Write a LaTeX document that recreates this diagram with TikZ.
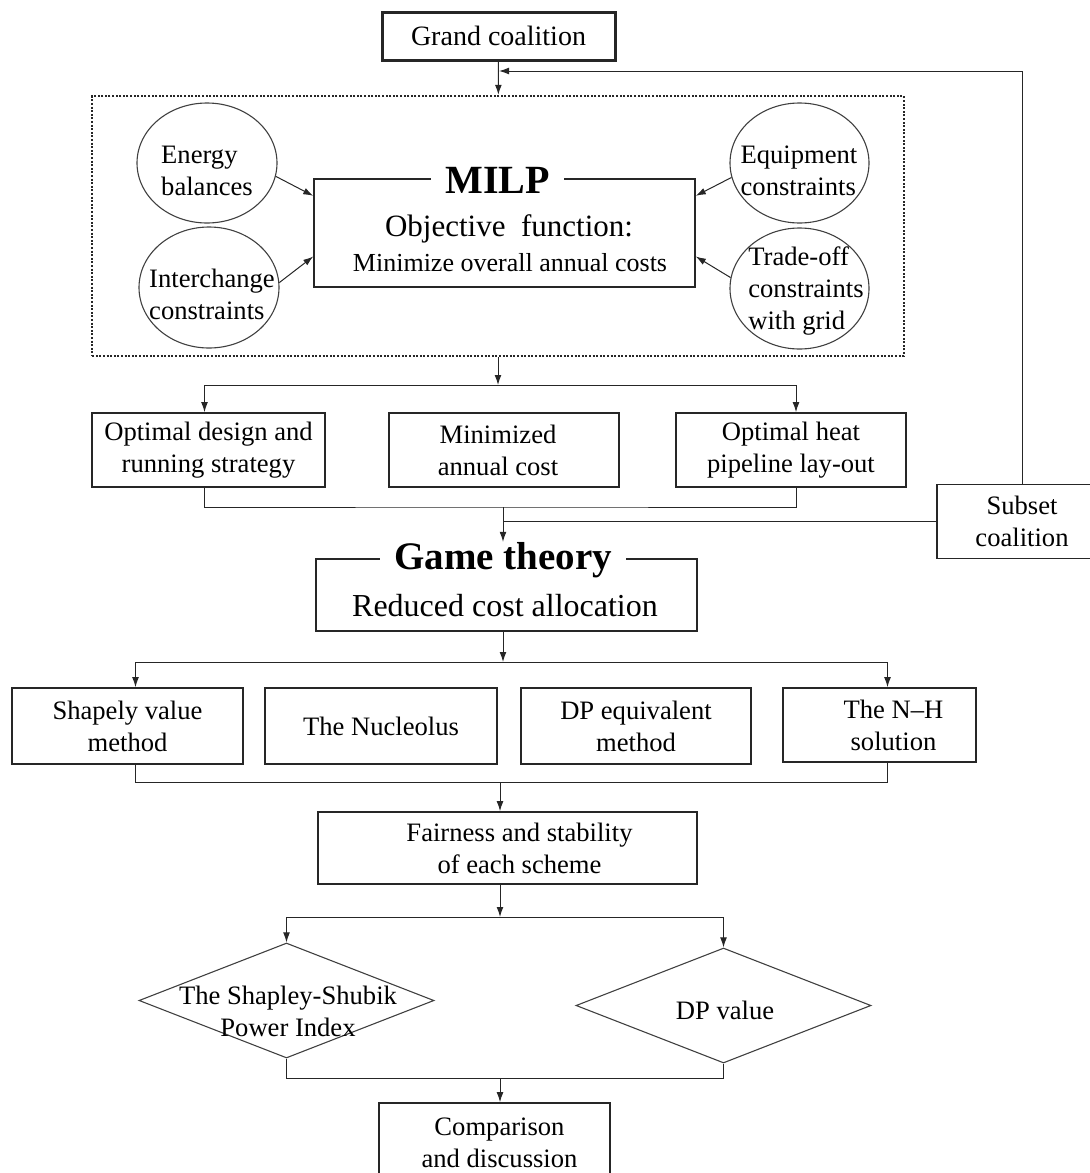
\documentclass[tikz,border=0pt]{standalone}
\usepackage{fontspec}
\setmainfont{Liberation Serif}
\usetikzlibrary{shapes.geometric, arrows.meta, positioning}

\begin{document}
\begin{tikzpicture}[x=0.5pt, y=-0.5pt,
    box/.style={draw=black!85, line width=0.8pt, align=center, inner sep=1pt,
      font=\fontsize{13.3}{16}\selectfont},
    oval/.style={ellipse, draw=black!75, line width=0.55pt, inner sep=0pt},
    rhomb/.style={diamond, draw=black!75, line width=0.55pt, inner sep=0pt},
    txt/.style={align=center, inner sep=0pt, font=\fontsize{13.3}{16}\selectfont},
    headline/.style={fill=white, inner xsep=7pt, inner ysep=0pt,
      font=\bfseries\fontsize{20}{22}\selectfont},
    arr/.style={-{Latex[length=5pt,width=3.4pt]}, line width=0.5pt, draw=black!85},
    wire/.style={line width=0.5pt, draw=black!85}]
    \useasboundingbox (0,0) rectangle (1090,1173);

    \node[box, line width=1.5pt, minimum width=116.5pt, minimum height=24pt,
      font=\fontsize{14}{16}\selectfont] (grand) at (498.5,36) {Grand coalition};
    \node[draw=black!85, dash pattern=on 1pt off 0.8pt, line width=1.2pt, minimum width=405.75pt,
      minimum height=130pt] (frame) at (498,226) {};

    \node[box, minimum width=190.5pt, minimum height=54pt] (milp) at (504.5,233) {};
    \node[headline] (milptitle) at (497.5,180) {MILP};
    \node[txt, font=\fontsize{15.5}{18}\selectfont] (objective) at (509,229) {Objective\ \ function:};
    \node[txt, font=\fontsize{13}{15}\selectfont] (minimize) at (510,263) {Minimize overall annual costs};

    \node[oval, minimum width=70pt, minimum height=60pt] (energy) at (207,163) {};
    \node[txt, align=left] (energytxt) at (207,171) {Energy\\balances};
    \node[oval, minimum width=70pt, minimum height=60.5pt] (inter) at (209,287.5) {};
    \node[txt, align=left] (intertxt) at (212,294) {Interchange\\constraints};
    \node[oval, minimum width=69.5pt, minimum height=60pt] (equip) at (799.5,163) {};
    \node[txt, align=left] (equiptxt) at (799,171) {Equipment\\constraints};
    \node[oval, minimum width=69.5pt, minimum height=60.5pt] (trade) at (799.5,288.5) {};
    \node[txt, align=left] (tradetxt) at (806,291) {Trade-off\\constraints\\with grid};

    \draw[arr] (energy.-11) -- (milp.169);
    \draw[arr] (inter.4) -- (milp.187);
    \draw[arr] (equip.192) -- (milp.11);
    \draw[arr] (trade.171) -- (milp.-7);

    \node[box, minimum width=116.5pt, minimum height=37pt] (design) at (208.5,450) {Optimal design and\\running strategy};
    \node[box, minimum width=115pt, minimum height=37pt] (minimized) at (504,450) {Minimized\hspace*{6pt}\\annual cost\hspace*{6pt}};
    \node[box, minimum width=115pt, minimum height=37pt] (layout) at (791,450) {Optimal heat\\pipeline lay-out};
    \node[box, minimum width=85pt, minimum height=37pt] (subset) at (1022,521.5) {Subset\\coalition};

    \node[box, minimum width=190.5pt, minimum height=36pt] (game) at (506.5,595) {};
    \node[headline, font=\bfseries\fontsize{19.5}{22}\selectfont] (gametitle) at (503,560) {Game theory};
    \node[txt, font=\fontsize{16}{18}\selectfont] (reduced) at (505,606) {Reduced cost allocation};

    \node[box, minimum width=115.5pt, minimum height=38pt] (shapely) at (127.5,726) {Shapely value\\method};
    \node[box, minimum width=116pt, minimum height=38pt] (nucleolus) at (381,726) {The Nucleolus};
    \node[box, minimum width=115pt, minimum height=38pt] (dpeq) at (636,726) {DP equivalent\\method};
    \node[box, minimum width=96.5pt, minimum height=37pt] (nh) at (879.5,725) {\hspace*{14pt}The N–H\\\hspace*{14pt}solution};

    \node[box, minimum width=189.5pt, minimum height=36pt] (fair) at (507.5,848) {\hspace*{12pt}Fairness and stability\\\hspace*{12pt}of each scheme};

    \node[rhomb, minimum width=147.5pt, minimum height=57.5pt] (ssi) at (286.5,1000.5) {};
    \node[txt] (ssitxt) at (288,1011) {The Shapley-Shubik\\Power Index};
    \node[rhomb, minimum width=147.5pt, minimum height=57.5pt] (dpv) at (723.5,1005.5) {};
    \node[txt] (dpvtxt) at (725,1010) {DP value};

    \node[box, minimum width=115.5pt, minimum height=40pt] (compare) at (494.5,1143) {\hspace*{5pt}Comparison\\\hspace*{5pt}and discussion};

    \coordinate (loopin) at (499,71);
    \coordinate (splitA) at (498,385);
    \coordinate (mergeA) at (503,507);
    \coordinate (joinB) at (503,521.5);
    \coordinate (splitB) at (503,662);
    \coordinate (mergeB) at (500,782);
    \coordinate (splitC) at (500,917);
    \coordinate (mergeC) at (500,1078);

    \draw[arr] (grand) -- (frame);
    \draw[arr] (subset.north) |- (loopin);
    \draw[arr] (frame) -- (splitA);
    \draw[arr] (splitA) -| ([xshift=-2pt]design.north);
    \draw[arr] (splitA) -| ([xshift=2.5pt]layout.north);
    \draw[wire] ([xshift=-2pt]design.south) |- (mergeA) -| ([xshift=2.5pt]layout.south);
    \draw[wire] (subset) -- (joinB);
    \draw[arr] (mergeA) -- (gametitle);
    \draw[arr] (game.south -| splitB) -- (splitB);
    \draw[arr] (splitB) -| ([xshift=4pt]shapely.north);
    \draw[arr] (splitB) -| ([xshift=4pt]nh.north);
    \draw[wire] ([xshift=4pt]shapely.south) |- (mergeB) -| ([xshift=4pt]nh.south);
    \draw[arr] (mergeB) -- (mergeB |- fair.north);
    \draw[arr] (fair.south -| splitC) -- (splitC);
    \draw[arr] (splitC) -| (ssi.north);
    \draw[arr] (splitC) -| (dpv.north);
    \draw[wire] (ssi.south) |- (mergeC) -| (dpv.south);
    \draw[arr] (mergeC) -- (mergeC |- compare.north);
\end{tikzpicture}
\end{document}
